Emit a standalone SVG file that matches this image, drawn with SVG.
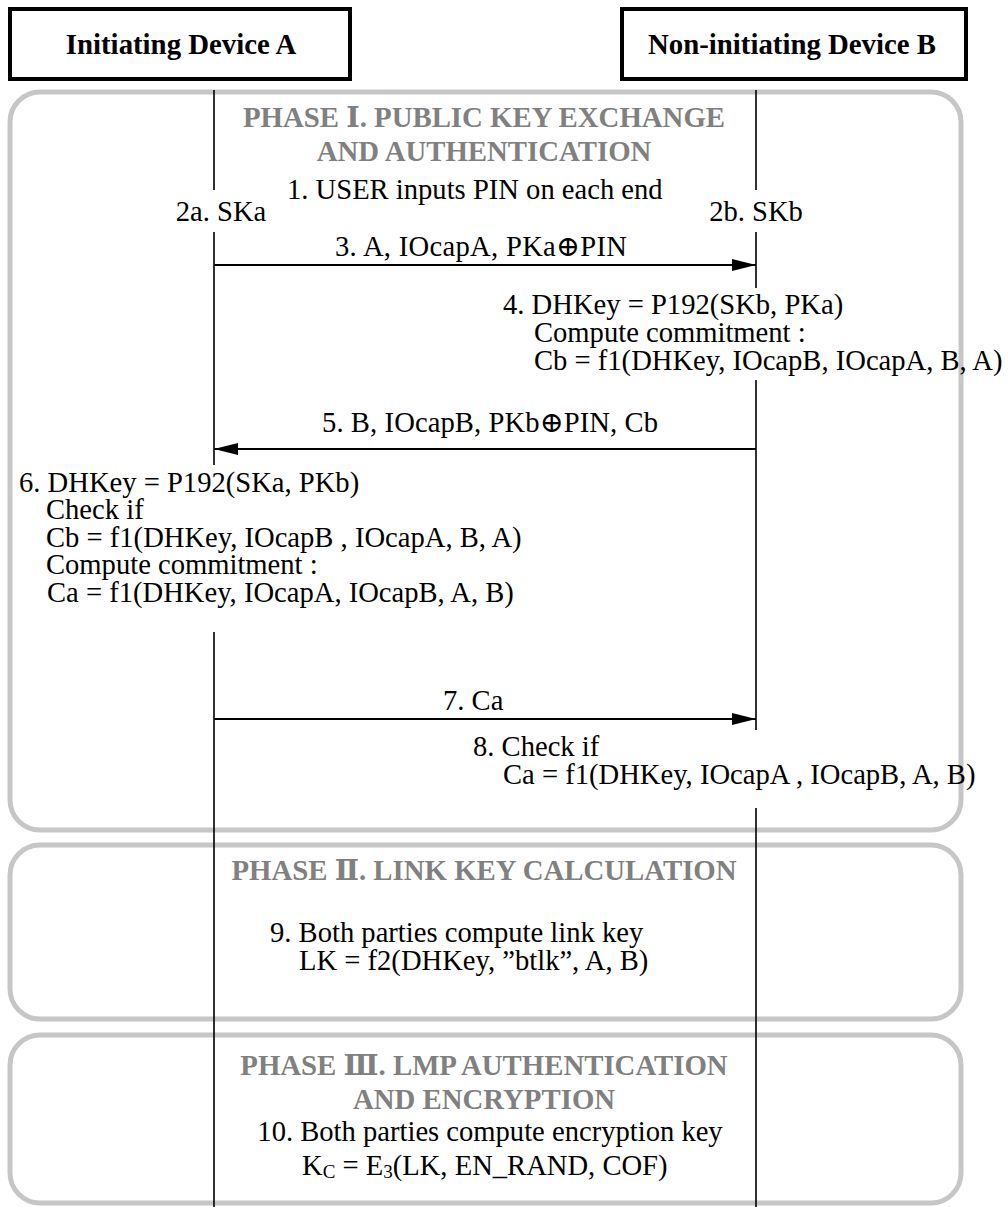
<svg xmlns="http://www.w3.org/2000/svg" width="1008" height="1207" viewBox="0 0 1008 1207" font-family="'Liberation Serif', 'Times New Roman', Tinos, 'DejaVu Serif', serif">
<style>
.hdr{fill:#fff;stroke:#000;stroke-width:4}
.hdrt{font-weight:bold;font-size:28.8px;fill:#000;text-anchor:middle}
.phase{fill:none;stroke:#c6c6c6;stroke-width:5}
.ttl{font-weight:bold;font-size:28.8px;fill:#808080;text-anchor:middle}
.t{font-size:28.6px;fill:#000}
.life{stroke:#000;stroke-width:1.6;fill:none}
.msg{stroke:#000;stroke-width:2;fill:none;marker-end:url(#ah)}
</style>
<defs>
<marker id="ah" markerUnits="userSpaceOnUse" markerWidth="24" markerHeight="12" refX="24" refY="6" orient="auto">
<path d="M0,0 L24,6 L0,12 z" fill="#000"/>
</marker>
</defs>
<rect width="1008" height="1207" fill="#fff"/>

<g id="phase1">
<rect class="phase" x="10" y="92" width="951" height="738" rx="30" ry="30"/>
<text class="ttl" x="484" y="127">PHASE Ⅰ. PUBLIC KEY EXCHANGE</text>
<text class="ttl" x="484" y="161">AND AUTHENTICATION</text>
</g>
<g id="phase2">
<rect class="phase" x="10" y="845" width="951" height="174" rx="30" ry="30"/>
<text class="ttl" x="484" y="880">PHASE Ⅱ. LINK KEY CALCULATION</text>
</g>
<g id="phase3">
<rect class="phase" x="10" y="1035" width="951" height="168" rx="30" ry="30"/>
<text class="ttl" x="484" y="1075">PHASE Ⅲ. LMP AUTHENTICATION</text>
<text class="ttl" x="484" y="1109">AND ENCRYPTION</text>
</g>

<g id="deviceA">
<rect class="hdr" x="10" y="9" width="340" height="70"/>
<text class="hdrt" x="181" y="54">Initiating Device A</text>
</g>
<g id="deviceB">
<rect class="hdr" x="622" y="9" width="344" height="70"/>
<text class="hdrt" x="792" y="54">Non-initiating Device B</text>
</g>

<g id="lifelines">
<path class="life" d="M214,90 V190 M214,232 V465 M214,632 V1207"/>
<path class="life" d="M756,90 V190 M756,232 V288 M756,380 V730 M756,808 V1207"/>
</g>

<g id="connectors">
<line class="msg" x1="214" y1="265" x2="756" y2="265"/>
<line class="msg" x1="756" y1="449" x2="214" y2="449"/>
<line class="msg" x1="214" y1="719" x2="756" y2="719"/>
</g>

<g id="step1"><text class="t" x="287" y="199">1. USER inputs PIN on each end</text></g>
<g id="step2a"><text class="t" x="221" y="221" text-anchor="middle">2a. SKa</text></g>
<g id="step2b"><text class="t" x="756" y="221" text-anchor="middle">2b. SKb</text></g>
<g id="step3"><text class="t" x="335" y="256" textLength="292">3. A, IOcapA, PKa⊕PIN</text></g>
<g id="step4">
<text class="t" x="503" y="314">4. DHKey = P192(SKb, PKa)</text>
<text class="t" x="534" y="342">Compute commitment :</text>
<text class="t" x="534" y="370">Cb = f1(DHKey, IOcapB, IOcapA, B, A)</text>
</g>
<g id="step5"><text class="t" x="322" y="432" textLength="336">5. B, IOcapB, PKb⊕PIN, Cb</text></g>
<g id="step6">
<text class="t" x="19" y="492">6. DHKey = P192(SKa, PKb)</text>
<text class="t" x="46" y="519">Check if</text>
<text class="t" x="46" y="547">Cb = f1(DHKey, IOcapB , IOcapA, B, A)</text>
<text class="t" x="46" y="574">Compute commitment :</text>
<text class="t" x="47" y="602">Ca = f1(DHKey, IOcapA, IOcapB, A, B)</text>
</g>
<g id="step7"><text class="t" x="443" y="710">7. Ca</text></g>
<g id="step8">
<text class="t" x="473" y="756">8. Check if</text>
<text class="t" x="503" y="784">Ca = f1(DHKey, IOcapA , IOcapB, A, B)</text>
</g>
<g id="step9">
<text class="t" x="270" y="942">9. Both parties compute link key</text>
<text class="t" x="299" y="970">LK = f2(DHKey, ”btlk”, A, B)</text>
</g>
<g id="step10">
<text class="t" x="490" y="1141" text-anchor="middle">10. Both parties compute encryption key</text>
<text class="t" x="302" y="1175">K<tspan font-size="19" dy="3">C</tspan><tspan dy="-3"> = E</tspan><tspan font-size="19" dy="3">3</tspan><tspan dy="-3">(LK, EN_RAND, COF)</tspan></text>
</g>
</svg>
